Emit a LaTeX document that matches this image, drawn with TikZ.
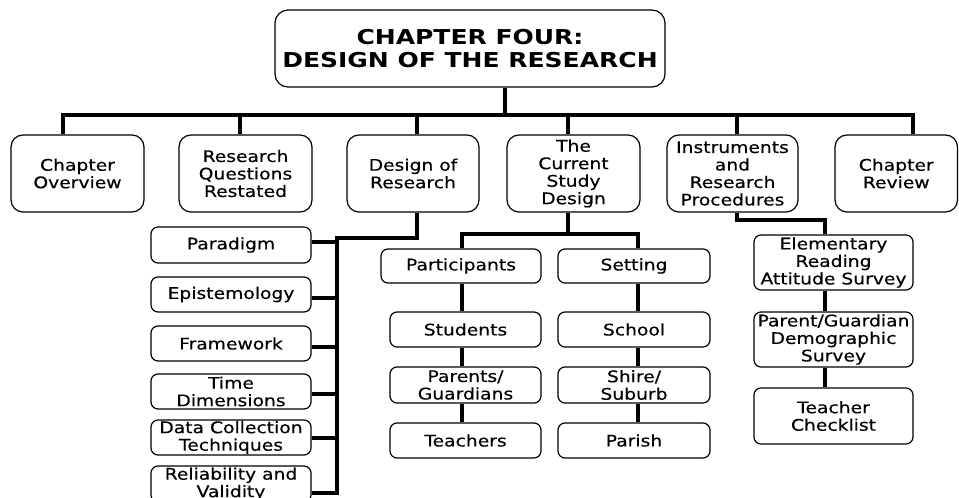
\documentclass[tikz,border=0pt]{standalone}
\usepackage{fontspec}
\newfontfamily\vfont[FakeStretch=1.17,FakeBold=0.35]{DejaVu Sans}
\newfontfamily\tfont[FakeStretch=1.22]{DejaVu Sans Bold}
\begin{document}
\begin{tikzpicture}[x=1pt,y=-1pt,
  box/.style={draw=black, line width=1.2pt, rounded corners=7pt, align=center, inner sep=0pt,
    font=\vfont\fontsize{16}{17.5}\selectfont},
  bigbox/.style={box, rounded corners=12pt, minimum height=77pt},
  conn/.style={line width=4pt, line join=miter}]
\useasboundingbox (0,0) rectangle (959,498);
% title
\node[box, rounded corners=13pt, minimum width=390pt, minimum height=77pt,
  font=\tfont\fontsize{20.5}{23.5}\selectfont] (title) at (470,48.5)
  {CHAPTER FOUR:\\DESIGN OF THE RESEARCH};
% level 1
\node[bigbox, minimum width=133pt] (co) at (77.5,173.5) {Chapter\\Overview};
\node[bigbox, minimum width=133pt] (rq) at (245.5,173.5) {Research\\Questions\\Restated};
\node[bigbox, minimum width=132pt] (dr) at (413,173.5) {Design of\\Research};
\node[bigbox, minimum width=133pt] (cs) at (573.5,173.5) {The\\Current\\Study\\Design};
\node[bigbox, minimum width=131pt] (ir) at (732.5,173.5) {Instruments\\and\\Research\\Procedures};
\node[bigbox, minimum width=122.5pt] (cr) at (896.25,173.5) {Chapter\\Review};
% design of research children
\node[box, minimum width=160pt, minimum height=36pt] (p1) at (231,245) {Paradigm};
\node[box, minimum width=160pt, minimum height=35pt] (p2) at (231,294.5) {Epistemology};
\node[box, minimum width=160pt, minimum height=35pt] (p3) at (231,343.5) {Framework};
\node[box, minimum width=160pt, minimum height=35pt] (p4) at (231,391.5) {Time\\Dimensions};
\node[box, minimum width=160pt, minimum height=35pt] (p5) at (231,437.5) {Data Collection\\Techniques};
\node[box, minimum width=160pt, minimum height=36pt] (p6) at (231,484) {Reliability and\\Validity};
% current study children
\node[box, minimum width=160pt, minimum height=34pt] (pa) at (461,266) {Participants};
\node[box, minimum width=151pt, minimum height=35pt] (st) at (465.5,329.5) {Students};
\node[box, minimum width=151pt, minimum height=36pt] (pg) at (465.5,385) {Parents/\\Guardians};
\node[box, minimum width=151pt, minimum height=35pt] (te) at (465.5,440.5) {Teachers};
\node[box, minimum width=152pt, minimum height=34pt] (se) at (634,266) {Setting};
\node[box, minimum width=152pt, minimum height=35pt] (sc) at (634,329.5) {School};
\node[box, minimum width=152pt, minimum height=36pt] (sh) at (634,385) {Shire/\\Suburb};
\node[box, minimum width=152pt, minimum height=35pt] (pr) at (634,440.5) {Parish};
% instruments children
\node[box, minimum width=159pt, minimum height=55pt] (e1) at (833.5,262.5) {Elementary\\Reading\\Attitude Survey};
\node[box, minimum width=159pt, minimum height=55pt] (e2) at (833.5,339.5) {Parent/Guardian\\Demographic\\Survey};
\node[box, minimum width=159pt, minimum height=56pt] (e3) at (833.5,416) {Teacher\\Checklist};
% trunk
\coordinate (bar) at (0,115);
\draw[conn] ([xshift=35pt]title.south) -- ([xshift=35pt]title.south |- bar);
\draw[conn] ([xshift=-14.5pt]co.north) -- ([xshift=-14.5pt]co.north |- bar)
  -- ([xshift=16.75pt]cr.north |- bar) -- ([xshift=16.75pt]cr.north);
\draw[conn] ([xshift=-5.5pt]rq.north) -- ([xshift=-5.5pt]rq.north |- bar);
\draw[conn] ([xshift=4pt]dr.north) -- ([xshift=4pt]dr.north |- bar);
\draw[conn] ([xshift=-5.5pt]cs.north) -- ([xshift=-5.5pt]cs.north |- bar);
\draw[conn] ([xshift=4.5pt]ir.north) -- ([xshift=4.5pt]ir.north |- bar);
% design of research branch
\coordinate (dv) at (337,238);
\coordinate (dvb) at (337,493);
\draw[conn] ([xshift=4pt]dr.south) |- (dv) -- (dvb) -- ([yshift=-9pt]p6.east);
\draw[conn] ([yshift=3pt]p1.east) -- ([yshift=3pt]p1.east -| dv);
\draw[conn] ([yshift=-3pt]p2.east) -- ([yshift=-3pt]p2.east -| dv);
\draw[conn] ([yshift=-3pt]p3.east) -- ([yshift=-3pt]p3.east -| dv);
\draw[conn] ([yshift=-2.5pt]p4.east) -- ([yshift=-2.5pt]p4.east -| dv);
\draw[conn] ([yshift=-0.5pt]p5.east) -- ([yshift=-0.5pt]p5.east -| dv);
% current study branch
\coordinate (cbar) at (0,233.5);
\draw[conn] ([xshift=-5.5pt]cs.south) -- ([xshift=-5.5pt]cs.south |- cbar);
\draw[conn] ([xshift=1pt]pa.north) -- ([xshift=1pt]pa.north |- cbar)
  -- ([xshift=4pt]se.north |- cbar) -- ([xshift=4pt]se.north);
\draw[conn] ([xshift=1pt]pa.south) -- ([xshift=-3.5pt]st.north);
\draw[conn] ([xshift=-3.5pt]st.south) -- ([xshift=-3.5pt]pg.north);
\draw[conn] ([xshift=-3.5pt]pg.south) -- ([xshift=-3.5pt]te.north);
\draw[conn] ([xshift=4pt]se.south) -- ([xshift=4pt]sc.north);
\draw[conn] ([xshift=4pt]sc.south) -- ([xshift=4pt]sh.north);
\draw[conn] ([xshift=4pt]sh.south) -- ([xshift=4pt]pr.north);
% instruments branch
\coordinate (ibar) at (0,220);
\draw[conn] ([xshift=4.5pt]ir.south) |- ([xshift=-8.5pt]e1.north |- ibar) -- ([xshift=-8.5pt]e1.north);
\draw[conn] ([xshift=-8.5pt]e1.south) -- ([xshift=-8.5pt]e2.north);
\draw[conn] ([xshift=-8.5pt]e2.south) -- ([xshift=-8.5pt]e3.north);
\end{tikzpicture}
\end{document}
